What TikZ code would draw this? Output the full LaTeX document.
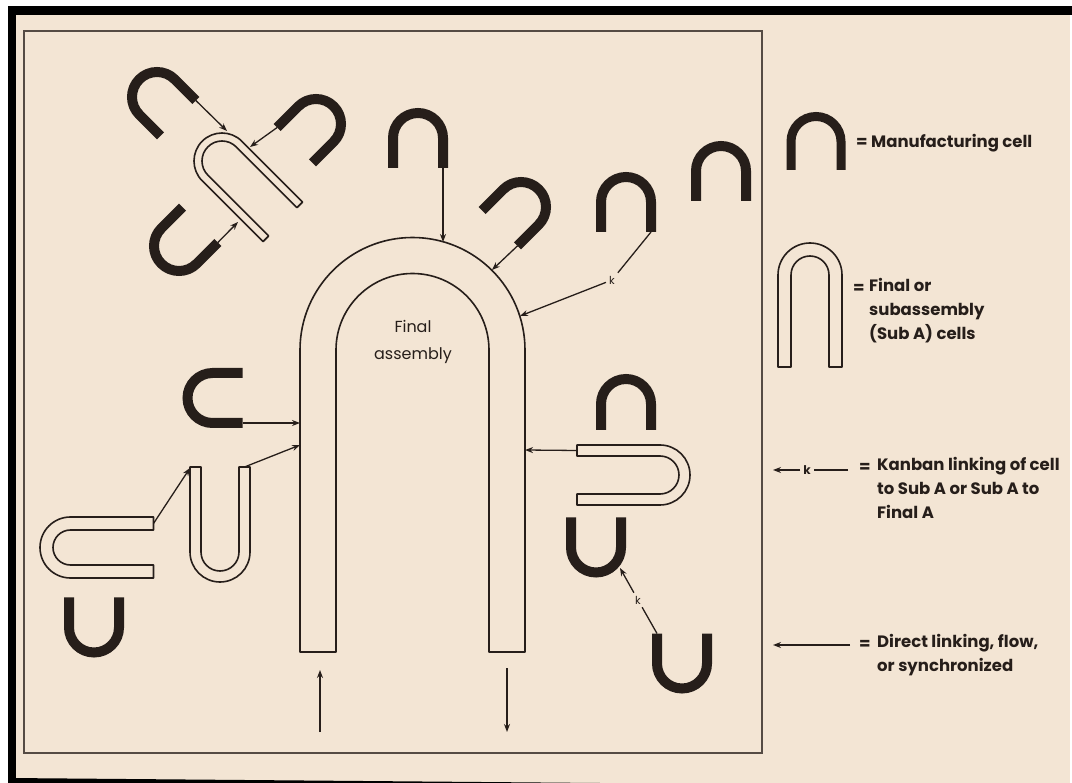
\documentclass[tikz,border=0pt]{standalone}
\usepackage{fontspec}
\setmainfont{Poppins}
\usetikzlibrary{arrows.meta}
\definecolor{paper}{RGB}{243,229,212}
\definecolor{ink}{RGB}{38,30,26}
\definecolor{frameline}{RGB}{85,75,68}
\tikzset{
    cell len/.initial=30,
    sub r/.initial=25, sub w/.initial=12, sub len/.initial=85,
    cell_line/.style={draw=ink, line width=10pt},
    sub_line/.style={draw=ink, line width=1.6pt, line join=round},
    link_arrow/.style={draw=ink, line width=1.3pt, -{Stealth[length=8pt,width=6pt]}},
    link_line/.style={draw=ink, line width=1.3pt},
    k_lbl/.style={font=\fontsize{11}{11}\selectfont, text=ink, inner sep=3pt},
    legend_txt/.style={font=\bfseries\fontsize{16.5}{24}\selectfont, text=ink, align=left, anchor=west, inner sep=0pt},
    fa_txt/.style={font=\fontsize{16}{27}\selectfont, text=ink, align=center},
    mfgcell/.pic={
        \draw[cell_line] (-25,-\pgfkeysvalueof{/tikz/cell len}) -- (-25,0) arc[start angle=180, end angle=0, radius=25] -- (25,-\pgfkeysvalueof{/tikz/cell len});
        \coordinate (-l) at (-25,-\pgfkeysvalueof{/tikz/cell len});
        \coordinate (-r) at (25,-\pgfkeysvalueof{/tikz/cell len});
    },
    subcell/.pic={
        \pgfmathsetmacro\subRo{\pgfkeysvalueof{/tikz/sub r}+\pgfkeysvalueof{/tikz/sub w}/2}
        \pgfmathsetmacro\subRi{\pgfkeysvalueof{/tikz/sub r}-\pgfkeysvalueof{/tikz/sub w}/2}
        \pgfmathsetmacro\subL{\pgfkeysvalueof{/tikz/sub len}}
        \draw[sub_line] (-\subRo,-\subL) -- (-\subRo,0) arc[start angle=180, end angle=0, radius=\subRo] -- (\subRo,-\subL) -- (\subRi,-\subL) -- (\subRi,0) arc[start angle=0, end angle=180, radius=\subRi] -- (-\subRi,-\subL) -- cycle;
        \coordinate (-l) at (-\pgfkeysvalueof{/tikz/sub r},-\subL);
        \coordinate (-r) at (\pgfkeysvalueof{/tikz/sub r},-\subL);
    }
}
\begin{document}
\begin{tikzpicture}[x=1pt, y=1pt]
    \useasboundingbox (0,0) rectangle (1072,-783);
    % paper and frame
    \fill[black] (8,-6) rectangle (1072,-783);
    \fill[paper] (16,-15) rectangle (1070,-783);
    \fill[white] (1070,-15) rectangle (1072,-783);
    \fill[black] (8,-778) -- (600,-783) -- (8,-783) -- cycle;
    \draw[frameline, line width=2pt] (24,-31) rectangle (762,-753);

    % Final assembly
    \pic[sub r=94.5, sub w=36, sub len=302] (fa) at (412.5,-350) {subcell};
    \node[fa_txt] (fatxt) at (413,-342) {Final\\assembly};
    \coordinate (fa-t) at (443,-242);
    \coordinate (fa-tr) at (492,-270);
    \coordinate (fa-k) at (520,-316);
    \coordinate (fa-l1) at (300,-423);
    \coordinate (fa-l2) at (300,-445);
    \coordinate (fa-r) at (525,-450);

    % top row of cells
    \pic (c1) at (418,-138) {mfgcell};
    \pic[rotate=-45] (c2) at (521,-207) {mfgcell};
    \pic (c3) at (626,-202) {mfgcell};
    \pic (c4) at (721,-171) {mfgcell};
    \node[k_lbl] (k1) at (612,-280) {k};

    % top left cluster
    \pic[sub r=24, sub w=8, sub len=86, rotate=45] (sa1) at (222,-161) {subcell};
    \pic[rotate=45] (cA) at (157,-97) {mfgcell};
    \pic[rotate=-45] (cB) at (316,-124) {mfgcell};
    \pic[rotate=135] (cC) at (179,-246) {mfgcell};
    \coordinate (sa1-a) at (227,-131);
    \coordinate (sa1-b) at (250,-147);
    \coordinate (sa1-c) at (238,-222);

    % left cluster
    \pic[rotate=90] (cD) at (212.5,-398) {mfgcell};
    \pic[sub r=24.5, sub w=11, sub len=85, rotate=180] (sa2) at (220,-552) {subcell};
    \pic[sub r=24, sub w=13, sub len=83, rotate=90] (sa3) at (70.5,-547.5) {subcell};
    \pic[rotate=180] (cE) at (94,-627.5) {mfgcell};
    \coordinate (sa2-a) at (190,-468);

    % right cluster
    \pic[cell len=26] (cF) at (626,-404) {mfgcell};
    \pic[sub r=24.5, sub w=11, sub len=83, rotate=-90] (sa4) at (660,-475) {subcell};
    \pic[rotate=180] (cG) at (596,-547.5) {mfgcell};
    \pic[rotate=180] (cH) at (682,-663.5) {mfgcell};
    \node[k_lbl] (k2) at (638,-600) {k};
    \coordinate (cG-a) at (620,-568);

    % links
    \draw[link_arrow] (c1-r) -- (fa-t);
    \draw[link_arrow] (c2-r) -- (fa-tr);
    \draw[link_line] (c3-r) -- (k1);
    \draw[link_arrow] (k1) -- (fa-k);
    \draw[link_arrow] (cA-r) -- (sa1-a);
    \draw[link_arrow] (cB-l) -- (sa1-b);
    \draw[link_arrow] (cC-l) -- (sa1-c);
    \draw[link_arrow] (cD-l) -- (fa-l1);
    \draw[link_arrow] (sa2-l) -- (fa-l2);
    \draw[link_arrow] (sa3-r) -- (sa2-a);
    \draw[link_arrow] (sa4-l) -- (fa-r);
    \draw[link_line] (cH-r) -- (k2);
    \draw[link_arrow] (k2) -- (cG-a);

    % flow in and out
    \coordinate (in-a) at (320,-732);
    \coordinate (in-b) at (320,-670);
    \coordinate (out-a) at (507,-668);
    \coordinate (out-b) at (507,-732);
    \draw[link_arrow] (in-a) -- (in-b);
    \draw[link_arrow] (out-a) -- (out-b);

    % legend
    \pic[cell len=28.5, cell_line/.append style={line width=9pt}] (lg1) at (816,-141.5) {mfgcell};
    \node[legend_txt] (lgt1) at (856,-143) {= Manufacturing cell};
    \pic[sub r=25.5, sub w=13, sub len=92] (lg2) at (810,-275) {subcell};
    \node[legend_txt] (lgeq2) at (853,-289) {=};
    \node[legend_txt, anchor=north west] (lgt2) at (869,-278) {Final or\\subassembly\\(Sub A) cells};
    \node[k_lbl, font=\bfseries\fontsize{12}{12}\selectfont] (lgk) at (807,-470) {k};
    \coordinate (lgk-a) at (773,-470);
    \coordinate (lgk-b) at (848,-470);
    \draw[link_arrow, line width=1.8pt] (lgk) -- (lgk-a);
    \draw[link_line, line width=1.8pt] (lgk-b) -- (lgk);
    \node[legend_txt] (lgeq3) at (859,-468) {=};
    \node[legend_txt, anchor=north west] (lgt3) at (877,-457) {Kanban linking of cell\\to Sub A or Sub A to\\Final A};
    \coordinate (lgd-a) at (773,-645);
    \coordinate (lgd-b) at (850,-645);
    \draw[link_arrow, line width=2pt] (lgd-b) -- (lgd-a);
    \node[legend_txt] (lgeq4) at (859,-645) {=};
    \node[legend_txt, anchor=north west] (lgt4) at (877,-634) {Direct linking, flow,\\or synchronized};
\end{tikzpicture}
\end{document}
